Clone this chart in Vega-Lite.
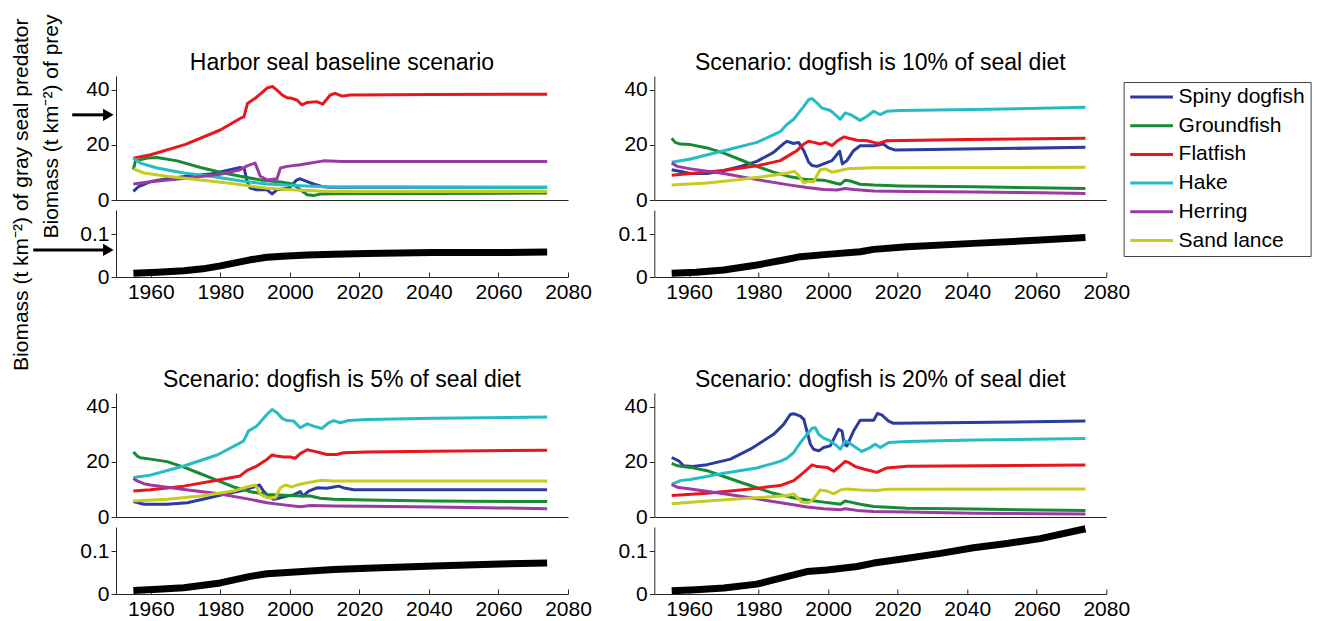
{
  "$schema": "https://vega.github.io/schema/vega-lite/v6.json",
  "background": "white",
  "padding": {"left": 10, "top": 13, "right": 5, "bottom": 5},
  "bounds": "flush",
  "columns": 2,
  "spacing": {"row": 116, "column": 86.3},
  "datasets": {
    "prey": [
      {"s": "b", "p": "Spiny dogfish", "x": [1955,1956.5,1960,1964.7,1970.5,1977.2,1985.7,1986.9,1987.7,1988.6,1990.5,1993.4,1994.9,1996.3,1999.7,2002,2003,2005,2006.8,2009.2,2011.6,2040,2074], "y": [3.1,4.9,6.7,7.7,8.6,9.4,11.8,11.3,6.7,4.3,3.7,3.7,2.2,3.7,4.3,7.3,7.7,6.7,5.8,4.9,4.6,4.6,4.6]},
      {"s": "b", "p": "Groundfish", "x": [1955,1955.6,1959,1961.8,1967.6,1974.3,1980,1985.7,1991.5,1997.3,2001,2003,2005,2006.8,2008.7,2012.6,2040,2074], "y": [11,14.2,15.2,15.4,14.2,11.8,10.1,8.6,7.3,6.5,5.8,3.7,1.9,1.6,2.2,2.3,2.4,2.5]},
      {"s": "b", "p": "Flatfish", "x": [1955,1960,1970,1980,1985.7,1986.8,1987.8,1990,1992,1993.5,1995,1996.3,1997.8,1999.2,2000.6,2002,2003.5,2005,2007.7,2009.5,2011.6,2013,2015,2017.4,2040,2074], "y": [15.2,16.4,20.2,25.4,29.6,30.2,35,36.9,39,40.7,41.2,39.9,38.1,37.1,36.9,36.3,34.5,35.4,35.7,34.8,38.1,38.7,37.7,38.1,38.3,38.4]},
      {"s": "b", "p": "Hake", "x": [1955,1957,1961.8,1969.5,1977.2,1985.7,1993.4,2001,2010.6,2074], "y": [15.2,13.4,11.6,9.8,8.6,7,5.8,5.3,4.8,4.5]},
      {"s": "b", "p": "Herring", "x": [1955,1960,1970,1980,1985.7,1987.7,1990,1991.5,1993.4,1996.3,1997.3,1999.2,2003,2006,2009.7,2015,2074], "y": [5.8,6.6,7.9,9.3,11,12.4,13.4,8.6,7.3,7.7,11.6,12.2,12.8,13.4,14.2,14,14]},
      {"s": "b", "p": "Sand lance", "x": [1955,1958,1964.7,1974.3,1983.8,1993.4,2003,2012.6,2074], "y": [11.3,9.8,8.6,7.3,5.9,4.3,3.5,3.1,3.1]},

      {"s": "10", "p": "Spiny dogfish", "x": [1955,1960.4,1965.2,1970,1974.8,1979.5,1984.3,1987.2,1988.2,1990.1,1991.5,1993,1994.4,1995.4,1996.8,1998.7,2001.1,2003.3,2004.1,2005.4,2007.3,2009.2,2013.1,2015.9,2017.4,2019.3,2074], "y": [11,9.6,9.6,10.7,12.2,14,17.3,20.5,21.3,20.5,20.9,17.9,13.7,12.5,12.2,13.1,14.3,17.7,13.1,14.3,17.9,19.7,19.7,20.3,18.9,18.1,19.1]},
      {"s": "10", "p": "Groundfish", "x": [1955,1956,1957.5,1960.4,1965.2,1970,1974.8,1979.5,1984.3,1989.1,1993.9,1998.7,2002.5,2003.5,2004.9,2006.4,2009.2,2013.1,2020.8,2041.8,2074], "y": [22.4,20.9,20.3,20.1,18.9,17,14.6,12.2,10.1,8.4,7.4,7.2,6,5.7,7.2,6.9,5.7,5.4,5.1,4.8,4.2]},
      {"s": "10", "p": "Flatfish", "x": [1955,1960.4,1970,1980,1986.2,1988.6,1991,1993,1994.4,1995.8,1997.7,1999.2,2001.1,2002.5,2004.5,2005.9,2008.3,2011.2,2013.1,2014.5,2016.9,2040,2074], "y": [9,9.6,10.7,12.5,14.3,16.1,17.9,20.3,21.3,20.9,20.3,20.9,19.7,21.3,22.9,22.4,21.7,21.5,20.9,20.5,21.5,22,22.4]},
      {"s": "10", "p": "Hake", "x": [1955,1960.4,1970,1979.5,1986.2,1988.2,1990.1,1993,1994.4,1995.4,1996.8,1998.2,2000.6,2002.5,2003.5,2004.9,2006.4,2009.2,2011.2,2013.1,2015,2016.9,2020.8,2041.8,2074], "y": [13.7,14.9,17.9,20.9,24.8,27.5,29.3,34,36.4,36.8,35.2,33.4,32.5,30.4,29.3,31.6,31,28.9,30.4,32.2,31,32.2,32.5,32.8,33.7]},
      {"s": "10", "p": "Herring", "x": [1955,1956.6,1960.4,1970,1979.5,1989.1,1993.9,1998.7,2002.5,2004.9,2007.3,2013.1,2022.7,2041.8,2061,2074], "y": [13.4,12.2,11.3,9.6,7.4,5.4,4.5,3.8,3.6,4.2,3.8,3.3,3.1,2.9,2.6,2.4]},
      {"s": "10", "p": "Sand lance", "x": [1955,1965.2,1974.8,1984.3,1988.2,1990.3,1991.5,1993,1994.4,1995.8,1997.7,1999.2,2001.1,2003.5,2005.4,2013.1,2074], "y": [5.4,6.2,7.4,9,9.8,10.4,9,6.2,6.8,6.6,11,11.3,10.1,10.7,11.3,11.7,11.9]},

      {"s": "5", "p": "Spiny dogfish", "x": [1955,1958,1964.7,1970.5,1976.2,1982,1985.7,1989.6,1991.3,1992.4,1993.9,1995.3,1997.3,1999.2,2001.1,2003,2003.8,2005.4,2007.8,2010.7,2012.6,2014,2016,2018.4,2074], "y": [5.6,4.6,4.6,5.2,6.8,8.5,9.4,10.9,11.6,9.4,7.6,6.4,7,7.6,8,9.2,7.6,9.4,10.6,10.4,10.9,11.2,10.4,9.9,9.9]},
      {"s": "5", "p": "Groundfish", "x": [1955,1956.1,1957,1959.9,1964.7,1969.5,1974.3,1979.1,1983.8,1988.6,1993.4,1998.2,2003,2005.9,2008.7,2012.6,2022.2,2041.3,2074], "y": [23.6,22.1,21.5,21,20.1,18.1,15.7,13.3,10.9,9.2,8.2,7.9,7.6,7.6,6.8,6.4,6.2,5.8,5.6]},
      {"s": "5", "p": "Flatfish", "x": [1955,1959.9,1969.5,1979.1,1985.7,1987.7,1990.5,1993.4,1994.9,1996.3,1998.2,2000.1,2001.5,2003,2005,2006.8,2008.7,2010.6,2013.5,2015.4,2022.2,2041.3,2074], "y": [9.4,9.9,11.2,13.3,14.9,16.9,18.5,20.9,22.5,22.1,21.8,21.8,21.3,23,24.4,23.9,23.3,22.7,22.7,23.3,23.6,23.9,24.2]},
      {"s": "5", "p": "Hake", "x": [1955,1959.9,1969.5,1979.1,1985.7,1986.7,1988.1,1990.5,1993.4,1994.9,1996.3,1997.8,1999.2,2001.1,2003,2005,2006.8,2009.2,2011.1,2012.6,2014.5,2016.9,2022.2,2041.3,2074], "y": [14.3,15.2,18.5,22.5,26.9,27.6,31.2,33,37.2,39,37.8,35.8,35,34.8,32.4,33.8,33,32.1,34.2,35,34.2,35,35.4,35.8,36.3]},
      {"s": "5", "p": "Herring", "x": [1955,1956.1,1958,1959.9,1969.5,1979.1,1988.6,1993.4,1998.2,2003,2005.9,2012.6,2022.2,2041.3,2060.5,2074], "y": [14,13.1,12.1,11.6,10,8.5,6.4,5.2,4.4,3.7,4.2,4,3.9,3.6,3.3,3]},
      {"s": "5", "p": "Sand lance", "x": [1955,1964.7,1974.3,1983.8,1987.7,1990.1,1991.5,1993.4,1995.8,1997.3,1998.7,2000.6,2002,2005,2009.2,2012.6,2074], "y": [5.8,6.4,7.6,9.4,10.9,11.6,8.2,7,7,10.6,11.6,10.9,11.6,12.4,13.3,13.1,13.1]},

      {"s": "20", "p": "Spiny dogfish", "x": [1955,1957,1958.4,1961,1965.2,1971.9,1977.6,1984.3,1987.2,1989.1,1990.1,1992,1993,1993.9,1994.9,1995.8,1997.3,1998.7,2000.6,2003,2004,2004.6,2005.4,2007.3,2009.2,2013.1,2014.2,2015.5,2017.4,2018.8,2074], "y": [21.6,20.4,18.6,18.3,19,21,24.6,30,33.6,37.2,37.5,36.6,35.4,31.2,26.4,24.6,24,25.2,25.8,31.8,31.2,26.4,25.8,31.2,35.1,35.1,37.6,37,34.8,34,34.8]},
      {"s": "20", "p": "Groundfish", "x": [1955,1956.6,1960.4,1965.2,1970,1974.8,1979.5,1984.3,1989.1,1993.9,1998.7,2002.5,2003.5,2004.9,2006.4,2009.2,2013.1,2022.7,2041.8,2061,2074], "y": [19.5,18.6,18,16.8,14.7,12.6,10.6,8.6,7.2,6.2,5.4,4.8,4.6,5.8,5.4,4.6,3.8,3.2,2.9,2.5,2.4]},
      {"s": "20", "p": "Flatfish", "x": [1955,1965.2,1974.8,1986.2,1990.1,1993,1995.4,1996.8,1999.7,2001.6,2003.5,2004.9,2005.9,2007.8,2010.2,2014,2016.9,2022.7,2074], "y": [7.8,8.6,9.8,11.4,13.2,16.2,18.9,18.3,18,16.6,18.6,20.2,19.8,18.3,17.4,16.2,17.8,18.4,18.9]},
      {"s": "20", "p": "Hake", "x": [1955,1957.5,1960.4,1970,1979.5,1986.2,1988.2,1990.1,1992,1993.9,1995.4,1996.3,1997.3,1998.7,2000.6,2002.5,2003.5,2004.9,2005.9,2007.3,2009.7,2012.1,2013.5,2015,2017.4,2022.7,2041.8,2074], "y": [11.8,13.2,13.6,15.9,17.8,20.2,21.4,23.4,27,30,32.2,32.4,30,28.6,27.6,25.8,24.6,27.6,27,25.8,23.8,25.2,26.4,25.2,27,27.4,27.9,28.5]},
      {"s": "20", "p": "Herring", "x": [1955,1956.6,1960.4,1970,1979.5,1989.1,1993.9,1998.7,2003.5,2004.9,2008.3,2013.1,2022.7,2041.8,2061,2074], "y": [11.8,10.8,10.2,8.4,6.6,4.6,3.6,3,2.6,3,2.4,2,1.8,1.4,1.2,1.1]},
      {"s": "20", "p": "Sand lance", "x": [1955,1965.2,1974.8,1984.3,1988.2,1990.1,1992.5,1994.4,1995.8,1997.7,1999.7,2001.6,2003.5,2005.4,2009.2,2014,2016.9,2074], "y": [4.8,5.8,6.6,7.4,7.8,8.4,5.4,5.2,6.6,9.8,9.4,8.4,9.8,10.2,9.8,9.6,10.1,10.2]}
    ],
    "seal": [
      {"s": "b", "x": [1955,1962,1969.5,1975,1980,1985,1988.6,1993.4,1999.2,2005,2012.6,2022,2041,2060,2074], "y": [0.0085,0.011,0.0147,0.019,0.026,0.034,0.04,0.046,0.049,0.051,0.053,0.055,0.057,0.057,0.058]},
      {"s": "10", "x": [1955,1962,1970,1979.5,1987.2,1992,1999.7,2009.2,2013.1,2022.7,2041.8,2061,2074], "y": [0.0085,0.011,0.0163,0.0279,0.0395,0.0473,0.0527,0.0589,0.0643,0.0705,0.0783,0.086,0.0922]},
      {"s": "5", "x": [1955,1962,1969.5,1980,1988.6,1993.4,1999.2,2012.6,2022.2,2041.3,2060.5,2074], "y": [0.0083,0.011,0.0144,0.0258,0.041,0.047,0.05,0.057,0.06,0.065,0.07,0.072]},
      {"s": "20", "x": [1955,1962,1970,1979.5,1984.3,1993.9,1999.7,2008.3,2013.1,2020.8,2032.3,2041.8,2051.4,2061,2074], "y": [0.0077,0.01,0.0138,0.023,0.033,0.0523,0.056,0.064,0.072,0.081,0.0946,0.1077,0.1177,0.129,0.152]}
    ],
    "arrows": [
      {"k": "prey", "x0": 1937.4, "x1": 1946.5, "xt": 1947.8, "v": 30.9},
      {"k": "seal", "x0": 1926.2, "x1": 1946.5, "xt": 1947.8, "v": 0.063}
    ]
  },
  "config": {
    "view": {"stroke": null},
    "font": "Liberation Sans",
    "line": {"strokeJoin": "round"},
    "axis": {
      "grid": false,
      "domainColor": "#262626",
      "tickColor": "#262626",
      "labelColor": "#000000",
      "labelFont": "Liberation Sans",
      "labelFontSize": 21,
      "titleFont": "Liberation Sans",
      "titleFontSize": 21,
      "titleFontWeight": "normal",
      "titleColor": "#000000"
    },
    "title": {"font": "Liberation Sans", "fontSize": 23, "fontWeight": "normal", "color": "#000000", "anchor": "middle", "frame": "group", "offset": 0, "dy": 3},
    "legend": {
      "orient": "none",
      "legendX": 1007.6,
      "legendY": 6,
      "title": null,
      "strokeColor": "#444444",
      "fillColor": "white",
      "padding": 5,
      "symbolType": "stroke",
      "symbolSize": 1823,
      "symbolStrokeWidth": 3,
      "clipHeight": 20,
      "rowPadding": 7.7,
      "labelOffset": 4,
      "labelFont": "Liberation Sans",
      "labelFontSize": 21,
      "labelColor": "#000000"
    }
  },
  "concat": [
    {
      "width": 452, "height": 201,
      "title": {"text": "Harbor seal baseline scenario", "dy": 65},
      "resolve": {"scale": {"x": "independent", "y": "independent"}, "axis": {"x": "independent", "y": "independent"}},
      "layer": [
        {
          "layer": [
            {
              "data": {"name": "prey"},
              "transform": [{"filter": "datum.s == 'b'"}, {"flatten": ["x", "y"]}],
              "mark": {"type": "line", "strokeWidth": 3},
              "encoding": {
                "x": {"field": "x", "type": "quantitative", "scale": {"domain": [1950, 2080], "nice": false, "zero": false}, "axis": {"orient": "bottom", "offset": -77, "ticks": false, "labels": false, "title": null}},
                "y": {"field": "y", "type": "quantitative", "scale": {"domain": [0, 45], "range": [124, 0], "nice": false}, "axis": {"orient": "left", "values": [0, 20, 40], "tickSize": 5, "labelPadding": 2, "title": "Biomass (t km⁻²) of prey", "titleAngle": 270, "titleX": -58.7, "titleY": -62, "titleAlign": "right", "titleBaseline": "alphabetic"}},
                "color": {"field": "p", "type": "nominal", "scale": {"domain": ["Spiny dogfish", "Groundfish", "Flatfish", "Hake", "Herring", "Sand lance"], "range": ["#2b3c9e", "#188a34", "#e8161d", "#25bcc4", "#9b3aa3", "#c6cc1f"]}}
              }
            },
            {
              "data": {"name": "arrows"},
              "transform": [{"filter": "datum.k == 'prey'"}],
              "mark": {"type": "rule", "strokeWidth": 3, "color": "black"},
              "encoding": {
                "x": {"field": "x0", "type": "quantitative"},
                "x2": {"field": "x1"},
                "y": {"field": "v", "type": "quantitative"}
              }
            },
            {
              "data": {"name": "arrows"},
              "transform": [{"filter": "datum.k == 'prey'"}],
              "mark": {"type": "point", "shape": "triangle-right", "filled": true, "color": "black", "opacity": 1, "size": 150},
              "encoding": {
                "x": {"field": "xt", "type": "quantitative"},
                "y": {"field": "v", "type": "quantitative"}
              }
            }
          ]
        },
        {
          "layer": [
            {
              "data": {"name": "seal"},
              "transform": [{"filter": "datum.s == 'b'"}, {"flatten": ["x", "y"]}],
              "mark": {"type": "line", "strokeWidth": 7, "color": "black", "strokeCap": "butt"},
              "encoding": {
                "x": {"field": "x", "type": "quantitative", "scale": {"domain": [1950, 2080], "nice": false, "zero": false}, "axis": {"orient": "bottom", "values": [1960, 1980, 2000, 2020, 2040, 2060, 2080], "format": "d", "tickSize": -5, "labelPadding": 9, "labelFlush": false, "labelOverlap": false, "title": null}},
                "y": {"field": "y", "type": "quantitative", "scale": {"domain": [0, 0.156], "range": [201, 134], "nice": false}, "axis": {"orient": "left", "values": [0, 0.1], "format": "~g", "tickSize": 5, "labelPadding": 2, "title": "Biomass (t km⁻²) of gray seal predator", "titleAngle": 270, "titleX": -88.7, "titleY": -58, "titleAlign": "right", "titleBaseline": "alphabetic"}}
              }
            },
            {
              "data": {"name": "arrows"},
              "transform": [{"filter": "datum.k == 'seal'"}],
              "mark": {"type": "rule", "strokeWidth": 3, "color": "black"},
              "encoding": {
                "x": {"field": "x0", "type": "quantitative"},
                "x2": {"field": "x1"},
                "y": {"field": "v", "type": "quantitative"}
              }
            },
            {
              "data": {"name": "arrows"},
              "transform": [{"filter": "datum.k == 'seal'"}],
              "mark": {"type": "point", "shape": "triangle-right", "filled": true, "color": "black", "opacity": 1, "size": 150},
              "encoding": {
                "x": {"field": "xt", "type": "quantitative"},
                "y": {"field": "v", "type": "quantitative"}
              }
            }
          ]
        }
      ]
    },
    {
      "width": 452, "height": 201,
      "title": "Scenario: dogfish is 10% of seal diet",
      "resolve": {"scale": {"x": "independent", "y": "independent"}, "axis": {"x": "independent", "y": "independent"}},
      "layer": [
        {
          "data": {"name": "prey"},
          "transform": [{"filter": "datum.s == '10'"}, {"flatten": ["x", "y"]}],
          "mark": {"type": "line", "strokeWidth": 3},
          "encoding": {
            "x": {"field": "x", "type": "quantitative", "scale": {"domain": [1950, 2080], "nice": false, "zero": false}, "axis": {"orient": "bottom", "offset": -77, "ticks": false, "labels": false, "title": null}},
            "y": {"field": "y", "type": "quantitative", "scale": {"domain": [0, 45], "range": [124, 0], "nice": false}, "axis": {"orient": "left", "values": [0, 20, 40], "tickSize": 5, "labelPadding": 2, "title": null}},
            "color": {"field": "p", "type": "nominal", "scale": {"domain": ["Spiny dogfish", "Groundfish", "Flatfish", "Hake", "Herring", "Sand lance"], "range": ["#2b3c9e", "#188a34", "#e8161d", "#25bcc4", "#9b3aa3", "#c6cc1f"]}}
          }
        },
        {
          "data": {"name": "seal"},
          "transform": [{"filter": "datum.s == '10'"}, {"flatten": ["x", "y"]}],
          "mark": {"type": "line", "strokeWidth": 7, "color": "black", "strokeCap": "butt"},
          "encoding": {
            "x": {"field": "x", "type": "quantitative", "scale": {"domain": [1950, 2080], "nice": false, "zero": false}, "axis": {"orient": "bottom", "values": [1960, 1980, 2000, 2020, 2040, 2060, 2080], "format": "d", "tickSize": -5, "labelPadding": 9, "labelFlush": false, "labelOverlap": false, "title": null}},
            "y": {"field": "y", "type": "quantitative", "scale": {"domain": [0, 0.156], "range": [201, 134], "nice": false}, "axis": {"orient": "left", "values": [0, 0.1], "format": "~g", "tickSize": 5, "labelPadding": 2, "title": null}}
          }
        }
      ]
    },
    {
      "width": 452, "height": 201,
      "title": "Scenario: dogfish is 5% of seal diet",
      "resolve": {"scale": {"x": "independent", "y": "independent"}, "axis": {"x": "independent", "y": "independent"}},
      "layer": [
        {
          "data": {"name": "prey"},
          "transform": [{"filter": "datum.s == '5'"}, {"flatten": ["x", "y"]}],
          "mark": {"type": "line", "strokeWidth": 3},
          "encoding": {
            "x": {"field": "x", "type": "quantitative", "scale": {"domain": [1950, 2080], "nice": false, "zero": false}, "axis": {"orient": "bottom", "offset": -77, "ticks": false, "labels": false, "title": null}},
            "y": {"field": "y", "type": "quantitative", "scale": {"domain": [0, 45], "range": [124, 0], "nice": false}, "axis": {"orient": "left", "values": [0, 20, 40], "tickSize": 5, "labelPadding": 2, "title": null}},
            "color": {"field": "p", "type": "nominal", "scale": {"domain": ["Spiny dogfish", "Groundfish", "Flatfish", "Hake", "Herring", "Sand lance"], "range": ["#2b3c9e", "#188a34", "#e8161d", "#25bcc4", "#9b3aa3", "#c6cc1f"]}}
          }
        },
        {
          "data": {"name": "seal"},
          "transform": [{"filter": "datum.s == '5'"}, {"flatten": ["x", "y"]}],
          "mark": {"type": "line", "strokeWidth": 7, "color": "black", "strokeCap": "butt"},
          "encoding": {
            "x": {"field": "x", "type": "quantitative", "scale": {"domain": [1950, 2080], "nice": false, "zero": false}, "axis": {"orient": "bottom", "values": [1960, 1980, 2000, 2020, 2040, 2060, 2080], "format": "d", "tickSize": -5, "labelPadding": 9, "labelFlush": false, "labelOverlap": false, "title": null}},
            "y": {"field": "y", "type": "quantitative", "scale": {"domain": [0, 0.156], "range": [201, 134], "nice": false}, "axis": {"orient": "left", "values": [0, 0.1], "format": "~g", "tickSize": 5, "labelPadding": 2, "title": null}}
          }
        }
      ]
    },
    {
      "width": 452, "height": 201,
      "title": "Scenario: dogfish is 20% of seal diet",
      "resolve": {"scale": {"x": "independent", "y": "independent"}, "axis": {"x": "independent", "y": "independent"}},
      "layer": [
        {
          "data": {"name": "prey"},
          "transform": [{"filter": "datum.s == '20'"}, {"flatten": ["x", "y"]}],
          "mark": {"type": "line", "strokeWidth": 3},
          "encoding": {
            "x": {"field": "x", "type": "quantitative", "scale": {"domain": [1950, 2080], "nice": false, "zero": false}, "axis": {"orient": "bottom", "offset": -77, "ticks": false, "labels": false, "title": null}},
            "y": {"field": "y", "type": "quantitative", "scale": {"domain": [0, 45], "range": [124, 0], "nice": false}, "axis": {"orient": "left", "values": [0, 20, 40], "tickSize": 5, "labelPadding": 2, "title": null}},
            "color": {"field": "p", "type": "nominal", "scale": {"domain": ["Spiny dogfish", "Groundfish", "Flatfish", "Hake", "Herring", "Sand lance"], "range": ["#2b3c9e", "#188a34", "#e8161d", "#25bcc4", "#9b3aa3", "#c6cc1f"]}}
          }
        },
        {
          "data": {"name": "seal"},
          "transform": [{"filter": "datum.s == '20'"}, {"flatten": ["x", "y"]}],
          "mark": {"type": "line", "strokeWidth": 7, "color": "black", "strokeCap": "butt"},
          "encoding": {
            "x": {"field": "x", "type": "quantitative", "scale": {"domain": [1950, 2080], "nice": false, "zero": false}, "axis": {"orient": "bottom", "values": [1960, 1980, 2000, 2020, 2040, 2060, 2080], "format": "d", "tickSize": -5, "labelPadding": 9, "labelFlush": false, "labelOverlap": false, "title": null}},
            "y": {"field": "y", "type": "quantitative", "scale": {"domain": [0, 0.156], "range": [201, 134], "nice": false}, "axis": {"orient": "left", "values": [0, 0.1], "format": "~g", "tickSize": 5, "labelPadding": 2, "title": null}}
          }
        }
      ]
    }
  ]
}
